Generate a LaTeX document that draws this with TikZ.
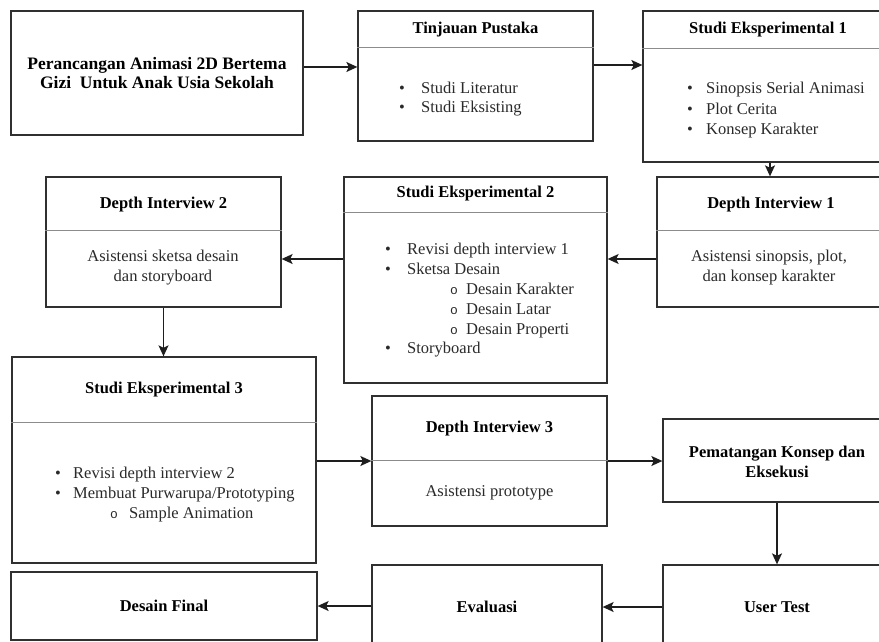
\documentclass[tikz,border=0pt]{standalone}
\usepackage{fontspec}
\setmainfont{Liberation Serif}
\newfontfamily\monofont{Liberation Mono}
\usetikzlibrary{arrows.meta}
\definecolor{boxc}{HTML}{303030}
\definecolor{divc}{HTML}{8C8C8C}
\definecolor{bodyc}{HTML}{2A2A2A}
\definecolor{arrc}{HTML}{1E1E1E}
\begin{document}
\begin{tikzpicture}[x=1pt,y=-1pt,
  box/.style={draw=boxc, line width=1.3pt, rectangle, inner sep=0pt},
  hdr/.style={font=\fontsize{16.5}{20}\selectfont\bfseries, text=black, inner sep=0pt, align=center},
  bod/.style={font=\fontsize{16.5}{20}\selectfont, text=bodyc, inner sep=0pt, align=center},
  item/.style={font=\fontsize{16.5}{20}\selectfont, text=bodyc, inner sep=0pt, anchor=base west},
  dot/.style={font=\fontsize{16.5}{20}\selectfont, text=bodyc, inner sep=0pt, anchor=base},
  circ/.style={font=\fontsize{13}{16}\monofont, text=bodyc, inner sep=0pt, anchor=base},
  divline/.style={draw=divc, line width=0.8pt},
  arr/.style={draw=arrc, line width=1.3pt, -{Stealth[length=11pt,width=10pt,inset=2.5pt]}}
]
\clip (0,0) rectangle (879,642);
\useasboundingbox (0,0) rectangle (879,642);

% ---------- Title ----------
\node[box, minimum width=292, minimum height=124] (title) at (157,73) {};
\node[hdr, font=\fontsize{17.5}{19.5}\selectfont\bfseries] (titlet) at (157,73) {Perancangan Animasi 2D Bertema\\Gizi\ \ Untuk Anak Usia Sekolah};

% ---------- Tinjauan Pustaka ----------
\node[box, minimum width=235, minimum height=130] (tp) at (475.5,76) {};
\draw[divline] ([yshift=-37pt]tp.north west) -- ([yshift=-37pt]tp.north east);
\node[hdr] (tph) at (475.5,29.5) {Tinjauan Pustaka};
\node[dot] (tpb1) at (402,93.5) {•};
\node[item] (tpi1) at (421,93.5) {Studi Literatur};
\node[dot] (tpb2) at (402,113) {•};
\node[item] (tpi2) at (421,113) {Studi Eksisting};

% ---------- Studi Eksperimental 1 ----------
\node[box, minimum width=252, minimum height=151] (se1) at (769,86.5) {};
\draw[divline] ([yshift=-38pt]se1.north west) -- ([yshift=-38pt]se1.north east);
\node[hdr] (se1h) at (768,30) {Studi Eksperimental 1};
\node[dot] (se1b1) at (690,94) {•};
\node[item] (se1i1) at (706,94) {Sinopsis Serial Animasi};
\node[dot] (se1b2) at (690,114.5) {•};
\node[item] (se1i2) at (706,114.5) {Plot Cerita};
\node[dot] (se1b3) at (690,135) {•};
\node[item] (se1i3) at (706,135) {Konsep Karakter};

% ---------- Depth Interview 2 ----------
\node[box, minimum width=235, minimum height=130] (di2) at (163.5,242) {};
\draw[divline] ([yshift=-54pt]di2.north west) -- ([yshift=-54pt]di2.north east);
\node[hdr] (di2h) at (163.5,204.5) {Depth Interview 2};
\node[bod] (di2t) at (163,268) {Asistensi sketsa desain\\dan storyboard};

% ---------- Studi Eksperimental 2 ----------
\node[box, minimum width=263, minimum height=206] (se2) at (475.5,280) {};
\draw[divline] ([yshift=-36pt]se2.north west) -- ([yshift=-36pt]se2.north east);
\node[hdr] (se2h) at (475.5,194) {Studi Eksperimental 2};
\node[dot] (se2b1) at (388,254.5) {•};
\node[item] (se2i1) at (407,254.5) {Revisi depth interview 1};
\node[dot] (se2b2) at (388,274) {•};
\node[item] (se2i2) at (407,274) {Sketsa Desain};
\node[circ] (se2c1) at (454,294) {o};
\node[item] (se2j1) at (466,294) {Desain Karakter};
\node[circ] (se2c2) at (454,314) {o};
\node[item] (se2j2) at (466,314) {Desain Latar};
\node[circ] (se2c3) at (454,334) {o};
\node[item] (se2j3) at (466,334) {Desain Properti};
\node[dot] (se2b3) at (388,353.5) {•};
\node[item] (se2i3) at (407,353.5) {Storyboard};

% ---------- Depth Interview 1 ----------
\node[box, minimum width=228, minimum height=130] (di1) at (771,242) {};
\draw[divline] ([yshift=-54pt]di1.north west) -- ([yshift=-54pt]di1.north east);
\node[hdr] (di1h) at (771,204.5) {Depth Interview 1};
\node[bod] (di1t) at (769,267.5) {Asistensi sinopsis, plot,\\dan konsep karakter};

% ---------- Studi Eksperimental 3 ----------
\node[box, minimum width=304, minimum height=206] (se3) at (164,460) {};
\draw[divline] ([yshift=-66pt]se3.north west) -- ([yshift=-66pt]se3.north east);
\node[hdr] (se3h) at (164,390) {Studi Eksperimental 3};
\node[dot] (se3b1) at (58,478.5) {•};
\node[item] (se3i1) at (73,478.5) {Revisi depth interview 2};
\node[dot] (se3b2) at (58,498.5) {•};
\node[item] (se3i2) at (73,498.5) {Membuat Purwarupa/Prototyping};
\node[circ] (se3c1) at (114,518.5) {o};
\node[item] (se3j1) at (129,518.5) {Sample Animation};

% ---------- Depth Interview 3 ----------
\node[box, minimum width=235, minimum height=130] (di3) at (489.5,461) {};
\draw[divline] ([yshift=-65pt]di3.north west) -- ([yshift=-65pt]di3.north east);
\node[hdr] (di3h) at (489.5,428.5) {Depth Interview 3};
\node[bod] (di3t) at (489.5,493) {Asistensi prototype};

% ---------- Pematangan ----------
\node[box, minimum width=228, minimum height=83] (pke) at (777,460.5) {};
\node[hdr] (pket) at (777,461.5) {Pematangan Konsep dan\\Eksekusi};

% ---------- Bottom row ----------
\node[box, minimum width=306, minimum height=68] (df) at (164,606) {};
\node[hdr] (dft) at (164,606) {Desain Final};
\node[box, minimum width=230, minimum height=105] (ev) at (487,617.5) {};
\node[hdr] (evt) at (487,607) {Evaluasi};
\node[box, minimum width=228, minimum height=105] (ut) at (777,617.5) {};
\node[hdr] (utt) at (777,607) {User Test};

% ---------- Connectors ----------
\coordinate (a1) at ([yshift=6pt]title.east);
\draw[arr] (a1) -- (a1 -| tp.west);
\coordinate (a2) at ([yshift=11pt]tp.east);
\draw[arr] (a2) -- (a2 -| se1.west);
\coordinate (a3) at (se1.south -| 770,0);
\draw[arr] (a3) -- (a3 |- di1.north);
\coordinate (a4) at ([yshift=-17pt]di1.west);
\draw[arr] (a4) -- (a4 -| se2.east);
\coordinate (a5) at (se2.west |- a4);
\draw[arr] (a5) -- (a5 -| di2.east);
\draw[arr] (di2.south) -- (di2.south |- se3.north);
\coordinate (a6) at ([yshift=-1pt]se3.east);
\draw[arr] (a6) -- (a6 -| di3.west);
\draw[arr] (di3.east) -- (di3.east -| pke.west);
\draw[arr] (pke.south) -- (pke.south |- ut.north);
\coordinate (a7) at (ut.west |- evt);
\draw[arr] (a7) -- (a7 -| ev.east);
\coordinate (a8) at (ev.west |- df.east);
\draw[arr] (a8) -- (df.east);
\end{tikzpicture}
\end{document}
